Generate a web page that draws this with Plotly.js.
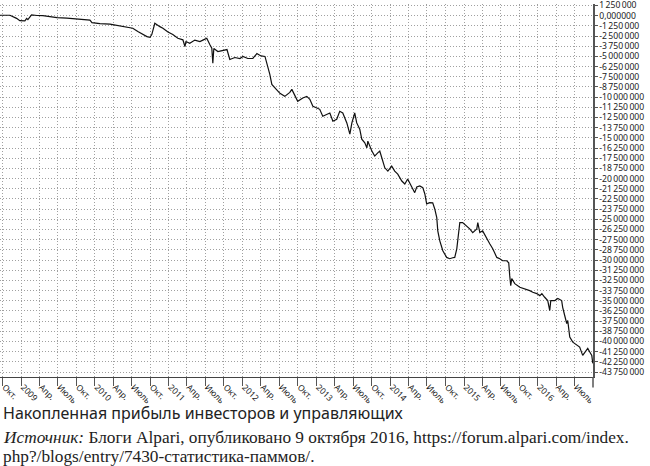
<!DOCTYPE html>
<html>
<head>
<meta charset="utf-8">
<script src="https://cdn.plot.ly/plotly-3.0.1.min.js"></script>
<style>
html,body{margin:0;padding:0;background:#fff;}
#chart{width:650px;height:466px;}
</style>
</head>
<body>
<div id="chart"></div>
<script>
// Cumulative profit of investors and managers (millions)
const dates = ["2008-09-18","2008-11-06","2008-12-09","2008-12-25","2009-01-19","2009-01-28","2009-02-03","2009-02-21","2009-03-20","2009-04-18",
"2009-05-23","2009-06-27","2009-08-15","2009-10-03","2009-11-12","2009-12-07","2009-12-17","2010-01-25","2010-03-16","2010-04-24",
"2010-06-08","2010-07-07","2010-08-01","2010-08-26","2010-09-15","2010-09-30","2010-10-09","2010-10-24","2010-11-03","2010-11-18",
"2010-12-03","2010-12-28","2011-01-21","2011-02-15","2011-03-12","2011-03-22","2011-03-27","2011-04-15","2011-05-10","2011-06-04",
"2011-06-24","2011-07-08","2011-07-23","2011-08-02","2011-08-07","2011-08-12","2011-09-01","2011-09-21","2011-10-16","2011-10-30",
"2011-11-24","2011-12-19","2012-01-03","2012-01-27","2012-02-21","2012-03-12","2012-04-01","2012-04-21","2012-05-05","2012-05-15",
"2012-05-25","2012-06-09","2012-07-04","2012-07-28","2012-08-22","2012-09-01","2012-09-16","2012-09-30","2012-10-25","2012-11-14",
"2012-11-29","2012-12-14","2013-01-03","2013-01-17","2013-02-01","2013-02-21","2013-03-08","2013-03-23","2013-04-11","2013-04-26",
"2013-05-11","2013-05-31","2013-06-15","2013-06-25","2013-07-09","2013-07-19","2013-08-03","2013-08-13","2013-08-28","2013-09-07",
"2013-09-12","2013-10-02","2013-10-16","2013-10-31","2013-11-10","2013-11-20","2013-12-05","2013-12-20","2014-01-08","2014-01-23",
"2014-02-07","2014-02-27","2014-03-14","2014-03-28","2014-04-17","2014-05-02","2014-05-12","2014-05-27","2014-06-11","2014-06-21",
"2014-06-30","2014-07-15","2014-07-30","2014-08-09","2014-08-19","2014-08-24","2014-09-03","2014-09-18","2014-10-07","2014-10-22",
"2014-11-06","2014-11-16","2014-11-26","2014-12-01","2014-12-11","2014-12-25","2015-01-14","2015-01-29","2015-02-13","2015-03-05",
"2015-03-10","2015-03-20","2015-04-03","2015-04-23","2015-05-08","2015-05-23","2015-06-12","2015-06-27","2015-07-11","2015-07-31",
"2015-08-10","2015-08-15","2015-08-20","2015-08-25","2015-09-09","2015-10-04","2015-10-28","2015-11-22","2015-12-07","2015-12-27",
"2016-01-11","2016-01-21","2016-02-04","2016-02-19","2016-02-29","2016-03-05","2016-03-25","2016-04-09","2016-04-28","2016-05-03",
"2016-05-13","2016-05-23","2016-05-28","2016-06-07","2016-06-22","2016-07-11","2016-07-26","2016-08-10","2016-08-30","2016-09-04",
"2016-09-14","2016-09-24","2016-09-29"];

const profitM = [0.05,0.05,-0.33,-0.61,-0.65,-0.33,-0.49,0.09,0.02,0,
-0.12,-0.24,-0.31,-0.40,-0.53,-0.55,-0.86,-0.98,-1.04,-1.19,
-1.35,-1.55,-1.96,-2.32,-2.57,-2.65,-2.32,-0.94,-1.14,-1.35,
-1.55,-2.02,-2.32,-2.78,-2.97,-3.79,-3.18,-3.39,-3.00,-3.18,
-2.94,-2.78,-3.55,-4.00,-5.83,-4.04,-4.40,-4.28,-4.16,-5.38,
-5.14,-5.26,-5.01,-5.26,-5.26,-4.65,-4.95,-5.01,-6.24,-7.22,
-8.44,-8.89,-9.54,-9.91,-9.42,-9.05,-9.91,-10.52,-10.11,-9.91,
-10.27,-11.13,-11.34,-11.50,-12.35,-12.11,-11.95,-12.96,-12.72,-11.74,
-11.95,-13.17,-14.55,-13.17,-11.95,-13.17,-13.94,-15.17,-15.62,-16.23,
-15.41,-16.63,-17.24,-16.84,-16.63,-17.45,-18.68,-19.08,-18.47,-19.08,
-19.45,-20.30,-20.67,-20.06,-20.91,-21.73,-21.04,-20.91,-21.12,-21.89,
-23.11,-22.96,-22.99,-23.73,-24.79,-26.42,-27.64,-28.86,-29.68,-29.84,
-29.72,-29.68,-28.62,-27.64,-25.40,-25.40,-25.81,-26.17,-26.63,-26.17,
-25.40,-26.63,-26.42,-27.40,-28.01,-28.62,-29.68,-29.84,-30.09,-30.09,
-30.33,-31.92,-33.14,-32.29,-32.90,-33.35,-33.51,-33.76,-33.96,-34.12,
-34.37,-34.12,-34.57,-34.98,-36.20,-34.98,-34.98,-34.73,-34.98,-35.80,
-36.81,-37.79,-37.42,-39.47,-40.08,-40.48,-40.69,-41.71,-41.09,-40.85,
-41.30,-41.71,-42.68];

// x-axis ticks (quarters)
const xTickDates = ["2008-10-01","2009-01-01","2009-04-01","2009-07-01","2009-10-01","2010-01-01","2010-04-01","2010-07-01",
"2010-10-01","2011-01-01","2011-04-01","2011-07-01","2011-10-01","2012-01-01","2012-04-01","2012-07-01",
"2012-10-01","2013-01-01","2013-04-01","2013-07-01","2013-10-01","2014-01-01","2014-04-01","2014-07-01",
"2014-10-01","2015-01-01","2015-04-01","2015-07-01","2015-10-01","2016-01-01","2016-04-01","2016-07-01"];
const xTickLabels = ["Окт.","2009","Апр.","Июль","Окт.","2010","Апр.","Июль",
"Окт.","2011","Апр.","Июль","Окт.","2012","Апр.","Июль",
"Окт.","2013","Апр.","Июль","Окт.","2014","Апр.","Июль",
"Окт.","2015","Апр.","Июль","Окт.","2016","Апр.","Июль"];

// y-axis ticks (millions) and labels as printed
const T = "\u2009";
const yTickLabels = ["1"+T+"250"+T+"000","0,000000","-1"+T+"250"+T+"000","-2"+T+"500"+T+"000","-3"+T+"750"+T+"000","-5"+T+"000"+T+"000",
"-6"+T+"250"+T+"000","-7"+T+"500"+T+"000","-8"+T+"750"+T+"000","-10"+T+"000"+T+"000","-11"+T+"250"+T+"000","-12"+T+"500"+T+"000",
"-13"+T+"750"+T+"000","-15"+T+"000"+T+"000","-16"+T+"250"+T+"000","-17"+T+"500"+T+"000","-18"+T+"750"+T+"000","-20"+T+"000"+T+"000",
"-21"+T+"250"+T+"000","-22"+T+"500"+T+"000","-23"+T+"750"+T+"000","-25"+T+"000"+T+"000","-26"+T+"250"+T+"000","-27"+T+"500"+T+"000",
"-28"+T+"750"+T+"000","-30"+T+"000"+T+"000","-31"+T+"250"+T+"000","-32"+T+"500"+T+"000","-33"+T+"750"+T+"000","-35"+T+"000"+T+"000",
"-36"+T+"250"+T+"000","-37"+T+"500"+T+"000","-38"+T+"750"+T+"000","-40"+T+"000"+T+"000","-41"+T+"250"+T+"000","-42"+T+"250"+T+"000",
"-43"+T+"750"+T+"000"];
const yTickVals = yTickLabels.map((_, i) => 1.25 - 1.25 * i);

const trace = {
  x: dates, y: profitM, type: "scatter", mode: "lines",
  line: {color: "#111", width: 1.2}, hoverinfo: "skip"
};

const layout = {
  width: 650, height: 466,
  margin: {l: 0, r: 57, t: 4, b: 89, pad: 0},
  paper_bgcolor: "#fff", plot_bgcolor: "#fff",
  showlegend: false,
  xaxis: {
    type: "date",
    range: ["2008-09-18", "2016-09-30"],
    tickmode: "array", tickvals: xTickDates, ticktext: xTickLabels,
    tickangle: 45, tickfont: {family: "Noto Sans, sans-serif", size: 8.5, color: "#222"},
    ticks: "outside", ticklen: 8, tickwidth: 1, tickcolor: "#555",
    ticklabelstandoff: -7, ticklabelshift: 2, ticklabeloverflow: "allow",
    showgrid: true, gridcolor: "#a0a0a0", gridwidth: 1, griddash: "1px,2px",
    showline: true, linecolor: "#444", linewidth: 1,
    zeroline: false, fixedrange: true
  },
  yaxis: {
    side: "right",
    range: [-44.36, 1.43],
    tickmode: "array", tickvals: yTickVals, ticktext: yTickLabels,
    tickfont: {family: "Noto Sans, sans-serif", size: 8.6, color: "#222"},
    ticks: "outside", ticklen: 3, tickwidth: 1, tickcolor: "#555",
    ticklabeloverflow: "allow",
    showgrid: true, gridcolor: "#a0a0a0", gridwidth: 1, griddash: "1px,2px",
    showline: true, linecolor: "#555", linewidth: 1.5,
    zeroline: false, fixedrange: true
  },
  shapes: [
    {type: "line", xref: "paper", yref: "paper", x0: 1, x1: 1, y0: 0, y1: -0.028,
     line: {color: "#555", width: 1.5}}
  ],
  annotations: [
    {xref: "paper", yref: "paper", x: 0.002, y: -0.0958, xanchor: "left", yanchor: "middle",
     showarrow: false, text: "Накопленная прибыль инвесторов и управляющих",
     font: {family: "Noto Sans, sans-serif", size: 16, color: "#222"}},
    {xref: "paper", yref: "paper", x: 0.002, y: -0.162, xanchor: "left", yanchor: "middle",
     showarrow: false, text: "<i>Источник:</i> Блоги Alpari, опубликовано 9 октября 2016, https://forum.alpari.com/index.",
     font: {family: "Liberation Serif, serif", size: 17.3, color: "#222"}},
    {xref: "paper", yref: "paper", x: 0.002, y: -0.2125, xanchor: "left", yanchor: "middle",
     showarrow: false, text: "php?/blogs/entry/7430-статистика-паммов/.",
     font: {family: "Liberation Serif, serif", size: 17.3, color: "#222"}}
  ]
};

Plotly.newPlot("chart", [trace], layout, {staticPlot: true, displayModeBar: false});
</script>
</body>
</html>
